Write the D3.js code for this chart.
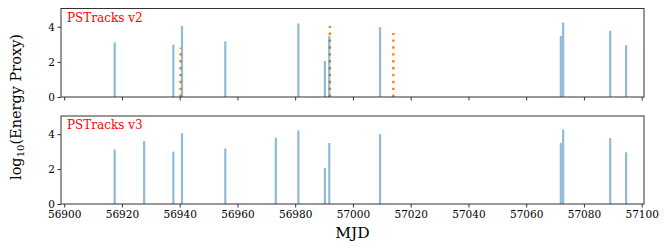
<!DOCTYPE html>
<html>
<head>
<meta charset="utf-8">
<script src="https://cdn.jsdelivr.net/npm/d3@7"></script>
<style>
  body { margin: 0; background: #fff; }
  svg text { font-family: "DejaVu Serif", serif; }
</style>
</head>
<body>
<script>
// events per pipeline version (MJD, log10 energy proxy)
var v2Mjd = [56917.5, 56937.8, 56940.8, 56955.8, 56981.1, 56990.3, 56991.8, 57009.4, 57072.0, 57072.8, 57089.1, 57094.6];
var v2Energy = [3.11, 2.99, 4.05, 3.17, 4.19, 2.05, 3.48, 3.98, 3.48, 4.24, 3.77, 2.95];
var v3Mjd = [56917.5, 56927.7, 56937.8, 56940.8, 56955.8, 56973.3, 56981.1, 56990.3, 56991.8, 57009.4, 57072.0, 57072.8, 57089.1, 57094.6];
var v3Energy = [3.12, 3.61, 3.0, 4.05, 3.18, 3.8, 4.22, 2.06, 3.49, 4.0, 3.5, 4.26, 3.78, 2.96];
// dotted markers only in v2 panel
var markMjd = [56940.3, 56992.0, 57014.0];
var markHeight = [2.8, 4.05, 3.65];

var xTicks = [56900, 56920, 56940, 56960, 56980, 57000, 57020, 57040, 57060, 57080, 57100];
var yTicks = [0, 2, 4];

var panels = [
  {label: "PSTracks v2", mjd: v2Mjd, energy: v2Energy, marks: true, top: 8.5, bottom: 97, xlabels: false},
  {label: "PSTracks v3", mjd: v3Mjd, energy: v3Energy, marks: false, top: 116, bottom: 204, xlabels: true}
];

var width = 664, height = 246;
var left = 61, right = 644;
var svg = d3.select("body").append("svg").attr("width", width).attr("height", height);

var x = d3.scaleLinear().domain([56898.9, 57100.8]).range([left, right]);

panels.forEach(function(p) {
  var y = d3.scaleLinear().domain([0, 5.04]).range([p.bottom, p.top]);
  var g = svg.append("g");

  // dotted lines first, bars go over them
  if (p.marks) {
    for (var i = 0; i < markMjd.length; i++) {
      g.append("line")
        .attr("x1", x(markMjd[i])).attr("x2", x(markMjd[i]))
        .attr("y1", y(0)).attr("y2", y(markHeight[i]))
        .attr("stroke", "#ff7f0e")
        .attr("stroke-width", 2.4)
        .attr("stroke-dasharray", "2.4,4.5");
    }
  }

  var data = p.mjd.map(function(m, i) { return {mjd: m, e: p.energy[i]}; });
  g.selectAll("rect.bar").data(data).enter().append("rect")
    .attr("class", "bar")
    .attr("x", function(d) { return x(d.mjd - 0.38); })
    .attr("width", function(d) { return x(d.mjd + 0.38) - x(d.mjd - 0.38); })
    .attr("y", function(d) { return y(d.e); })
    .attr("height", function(d) { return y(0) - y(d.e); })
    .attr("fill", "#1f77b4")
    .attr("fill-opacity", 0.5);

  // axes
  var xAxis = d3.axisBottom(x).tickValues(xTicks).tickSize(3.5).tickPadding(3)
    .tickFormat(p.xlabels ? d3.format("d") : "");
  var ax = g.append("g").attr("transform", "translate(0," + p.bottom + ")").call(xAxis);
  var yAxis = d3.axisLeft(y).tickValues(yTicks).tickSize(3.5).tickPadding(2.5).tickFormat(d3.format("d"));
  var ay = g.append("g").attr("transform", "translate(" + left + ",0)").call(yAxis);
  [ax, ay].forEach(function(a) {
    a.select(".domain").remove();
    a.selectAll("line").attr("stroke", "#000").attr("stroke-width", 0.8);
    a.selectAll("text").attr("font-family", "DejaVu Serif").attr("font-size", "10.5px").attr("fill", "#000");
  });

  // frame
  g.append("rect")
    .attr("x", left).attr("y", p.top)
    .attr("width", right - left).attr("height", p.bottom - p.top)
    .attr("fill", "none").attr("stroke", "#333").attr("stroke-width", 1);

  g.append("text")
    .attr("x", left + 6).attr("y", p.top + 13)
    .attr("fill", "#ff0000")
    .attr("font-size", "12px")
    .text(p.label);
});

// axis titles
svg.append("text")
  .attr("x", (left + right) / 2).attr("y", 238)
  .attr("text-anchor", "middle")
  .attr("font-size", "15.5px")
  .text("MJD");

var yl = svg.append("text")
  .attr("transform", "translate(21,107) rotate(-90)")
  .attr("text-anchor", "middle")
  .attr("font-size", "14.5px");
yl.append("tspan").text("log");
yl.append("tspan").attr("font-size", "10px").attr("dy", 3).text("10");
yl.append("tspan").attr("dy", -3).text("(Energy Proxy)");
</script>
</body>
</html>
